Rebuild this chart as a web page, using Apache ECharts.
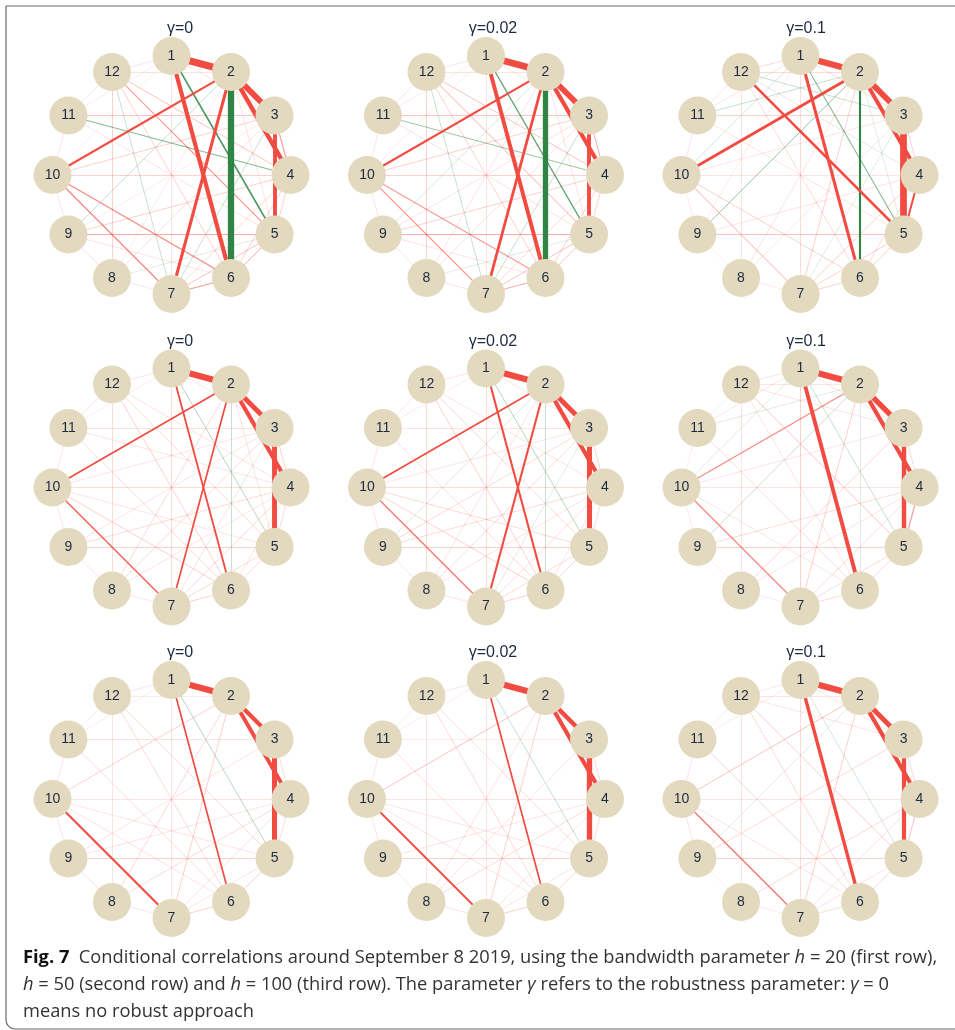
<!DOCTYPE html>
<html>
<head>
<meta charset="utf-8">
<script src="https://cdn.jsdelivr.net/npm/echarts@6/dist/echarts.min.js"></script>
<style>
  html, body { margin: 0; padding: 0; background: #fff; }
  #chart { width: 955px; height: 1030px; }
</style>
</head>
<body>
<div id="chart"></div>
<script>
// Twelve series on a ring, numbered clockwise from the top
const nodeNames = ['1', '2', '3', '4', '5', '6', '7', '8', '9', '10', '11', '12'];
const gammaLabels = ['γ=0', 'γ=0.02', 'γ=0.1'];
const bandwidths = [20, 50, 100];

// Conditional correlations as [node, node, value]; positive = red, negative = green
const corr_h20_g0 = [
  [1,2,0.50],[2,3,0.42],[2,4,0.32],[3,5,0.28],[1,6,0.30],[2,6,-0.45],[2,7,0.22],[2,10,0.15],
  [1,5,-0.11],[4,11,-0.08],[3,7,-0.05],[2,9,-0.05],[7,12,-0.05],[5,8,-0.03],
  [6,10,0.09],[7,10,0.09],[5,12,0.08],[4,12,0.06],[6,12,0.05],[3,11,0.06],[4,10,0.05],[3,10,0.05],
  [5,9,0.07],[4,9,0.05],[8,12,0.05],[1,7,0.03],[6,7,0.08],[5,7,0.06],[4,7,0.04],[5,6,0.07],[4,6,0.05],
  [3,4,0.08],[4,5,0.05],[1,12,0.03],[1,11,0.02],[11,12,0.03],[10,11,0.03],[9,10,0.03],[8,9,0.03],[7,8,0.03],
  [2,12,0.03],[5,11,0.03],[3,9,0.02],[2,8,0.02],[1,10,0.02],[3,8,0.03],[6,9,0.03],[1,3,0.03],[2,5,0.03]
];
const corr_h20_g002 = [
  [1,2,0.48],[2,3,0.40],[2,4,0.30],[3,5,0.28],[1,6,0.28],[2,6,-0.38],[2,7,0.20],[2,10,0.15],
  [1,5,-0.10],[4,11,-0.07],[3,7,-0.05],[2,9,-0.04],[7,12,-0.05],[5,8,-0.03],
  [6,10,0.08],[7,10,0.08],[5,12,0.07],[4,12,0.06],[6,12,0.05],[3,11,0.06],[4,10,0.05],[3,10,0.05],
  [5,9,0.07],[4,9,0.05],[8,12,0.05],[1,7,0.03],[6,7,0.07],[5,7,0.06],[4,7,0.04],[5,6,0.06],[4,6,0.05],
  [3,4,0.07],[4,5,0.05],[1,12,0.03],[1,11,0.02],[11,12,0.03],[10,11,0.03],[9,10,0.03],[8,9,0.03],[7,8,0.03],
  [2,12,0.03],[5,11,0.03],[3,9,0.03],[2,8,0.03],[1,10,0.02],[3,8,0.03],[6,9,0.03],[1,3,0.03],[2,5,0.03]
];
const corr_h20_g01 = [
  [1,2,0.45],[2,3,0.42],[2,4,0.28],[3,5,0.48],[4,5,0.14],[1,6,0.22],[2,6,-0.15],[5,12,0.18],[2,10,0.20],
  [1,5,-0.08],[2,9,-0.07],[3,12,-0.05],[2,11,-0.05],[1,10,-0.04],[2,5,-0.03],[3,7,-0.03],[4,12,-0.03],
  [5,9,0.06],[3,11,0.05],[7,10,0.07],[6,10,0.05],[1,7,0.04],[2,7,0.05],[4,7,0.05],[5,7,0.05],[5,6,0.05],[6,7,0.05],
  [6,12,0.04],[2,8,0.03],[4,9,0.03],[4,10,0.03],[8,12,0.03],[1,12,0.04],[1,11,0.03],[11,12,0.03],[10,11,0.03],
  [9,10,0.02],[8,9,0.02],[7,8,0.02],[2,12,0.04],[1,3,0.04],[4,6,0.04],[3,10,0.03],[3,8,0.03],[1,9,0.02],[5,11,0.03],[3,4,0.05]
];
const corr_h50_g0 = [
  [1,2,0.45],[2,3,0.35],[2,4,0.30],[3,5,0.35],[1,6,0.13],[2,7,0.12],[2,10,0.12],[7,10,0.11],
  [1,5,-0.06],[2,6,-0.05],[3,7,-0.03],
  [6,12,0.05],[5,12,0.04],[6,11,0.04],[5,9,0.05],[4,10,0.04],[6,10,0.05],[5,10,0.03],[4,9,0.04],[3,8,0.04],[4,8,0.03],
  [6,7,0.05],[5,7,0.04],[4,7,0.04],[5,6,0.04],[4,6,0.03],[8,12,0.04],[1,7,0.04],[4,12,0.03],[3,11,0.03],[4,11,0.03],
  [1,12,0.03],[1,11,0.02],[11,12,0.03],[10,11,0.03],[9,10,0.03],[8,9,0.03],[7,8,0.03],[2,8,0.04],[3,9,0.03],
  [3,10,0.03],[1,3,0.03],[2,5,0.03],[3,4,0.05],[4,5,0.04]
];
const corr_h50_g002 = [
  [1,2,0.45],[2,3,0.35],[2,4,0.30],[3,5,0.36],[1,6,0.15],[2,7,0.15],[2,10,0.12],[7,10,0.10],
  [1,5,-0.06],[2,6,-0.05],[3,7,-0.03],[2,9,-0.03],
  [6,12,0.05],[5,12,0.04],[6,11,0.04],[5,9,0.05],[4,10,0.04],[6,10,0.05],[5,10,0.04],[4,9,0.04],[3,8,0.04],[4,8,0.03],
  [6,7,0.05],[5,7,0.04],[4,7,0.04],[5,6,0.04],[4,6,0.03],[8,12,0.04],[1,7,0.04],[4,12,0.03],[3,11,0.03],[3,9,0.04],
  [1,12,0.03],[1,11,0.02],[11,12,0.03],[10,11,0.03],[9,10,0.03],[8,9,0.03],[7,8,0.03],[2,8,0.03],[3,10,0.03],
  [1,3,0.03],[3,4,0.05],[4,5,0.04]
];
const corr_h50_g01 = [
  [1,2,0.45],[2,3,0.38],[2,4,0.30],[3,5,0.32],[4,5,0.08],[1,6,0.28],[2,10,0.09],[7,10,0.09],
  [1,5,-0.05],[2,9,-0.05],[1,10,-0.03],[2,11,-0.03],[2,6,-0.03],
  [5,12,0.06],[3,12,0.03],[2,7,0.05],[1,7,0.05],[6,11,0.04],[5,9,0.05],[4,10,0.03],[3,8,0.04],[4,8,0.03],[4,9,0.04],
  [4,7,0.04],[5,7,0.04],[5,6,0.04],[6,7,0.04],[6,12,0.03],[8,12,0.03],[1,12,0.03],[1,11,0.03],[11,12,0.02],
  [10,11,0.02],[9,10,0.02],[8,9,0.02],[7,8,0.02],[2,12,0.03],[1,3,0.03],[6,10,0.03],[3,10,0.03],[3,4,0.04]
];
const corr_h100_g0 = [
  [1,2,0.45],[2,3,0.30],[2,4,0.28],[3,5,0.36],[1,6,0.12],[7,10,0.15],[1,5,-0.06],
  [2,10,0.05],[2,7,0.05],[2,8,0.04],[5,9,0.05],[5,12,0.04],[6,12,0.04],[6,11,0.04],[5,10,0.03],[4,10,0.03],
  [4,9,0.03],[4,8,0.04],[3,9,0.03],[6,7,0.05],[5,6,0.05],[5,7,0.03],[4,7,0.03],[8,12,0.03],[1,7,0.03],
  [1,12,0.03],[1,11,0.02],[11,12,0.02],[10,11,0.03],[9,10,0.03],[8,9,0.03],[7,8,0.03],[3,4,0.04],[4,5,0.04],
  [6,10,0.03],[3,11,0.03],[2,12,0.02]
];
const corr_h100_g002 = [
  [1,2,0.45],[2,3,0.32],[2,4,0.30],[3,5,0.38],[1,6,0.12],[7,10,0.13],[1,5,-0.05],
  [2,10,0.06],[2,7,0.05],[6,12,0.04],[5,12,0.04],[6,11,0.04],[5,9,0.05],[4,8,0.04],[4,10,0.03],[3,8,0.03],
  [2,8,0.03],[4,9,0.03],[6,7,0.05],[5,6,0.04],[5,7,0.03],[4,7,0.03],[8,12,0.03],[1,7,0.03],[1,12,0.03],
  [1,11,0.02],[11,12,0.02],[10,11,0.03],[9,10,0.03],[8,9,0.03],[7,8,0.03],[3,4,0.04],[4,5,0.04],[6,10,0.03],
  [3,11,0.02],[5,10,0.03]
];
const corr_h100_g01 = [
  [1,2,0.45],[2,3,0.35],[2,4,0.30],[3,5,0.30],[4,5,0.06],[1,6,0.24],[7,10,0.10],[1,5,-0.04],
  [2,10,0.06],[2,7,0.05],[1,7,0.04],[5,12,0.05],[6,12,0.04],[6,11,0.04],[5,9,0.05],[4,8,0.04],[3,9,0.04],
  [2,9,-0.03],[4,10,0.03],[3,12,0.03],[6,7,0.04],[5,6,0.04],[5,7,0.03],[4,7,0.03],[8,12,0.03],[1,12,0.03],
  [1,11,0.02],[11,12,0.02],[10,11,0.03],[9,10,0.03],[8,9,0.02],[7,8,0.02],[3,4,0.04],[6,10,0.03],[2,12,0.03],[1,3,0.03]
];

// Panels in reading order: rows = bandwidth h, columns = robustness γ
const panelEdges = [
  corr_h20_g0, corr_h20_g002, corr_h20_g01,
  corr_h50_g0, corr_h50_g002, corr_h50_g01,
  corr_h100_g0, corr_h100_g002, corr_h100_g01
];

// Layout of the 3 x 3 grid
const colX = [171.5, 486, 800.5];
const rowY = [175, 487.5, 799];
const titleX = [180, 493, 806];
const RING_RADIUS = 119;

const POS_COLOR = '#F24C42';
const NEG_COLOR = '#2E8545';
const NODE_COLOR = '#E3D9BF';
const INK = '#1E2A40';
const SANS = 'Liberation Sans, Arial, sans-serif';
const CAPTION_FONT = 'Open Sans, Noto Sans, sans-serif';
const CAPTION_SIZE = 18.3;

// Edge width and saturation grow with the size of the correlation
function edgeStyle(v) {
  const a = Math.abs(v);
  return {
    color: v > 0 ? POS_COLOR : NEG_COLOR,
    width: Math.max(0.8, a * 14),
    opacity: a >= 0.12 ? 1 : 0.06 + 0.9 * Math.pow(a / 0.12, 1.4),
    curveness: 0
  };
}

const polar = [], angleAxis = [], radiusAxis = [], series = [], graphic = [];

panelEdges.forEach((edges, i) => {
  const r = Math.floor(i / 3), c = i % 3;
  polar.push({ center: [colX[c], rowY[r]], radius: RING_RADIUS });
  angleAxis.push({
    polarIndex: i, type: 'value', min: 0, max: nodeNames.length,
    startAngle: 90, clockwise: true, show: false
  });
  radiusAxis.push({ polarIndex: i, type: 'value', min: 0, max: 1, show: false });

  const links = edges
    .slice()
    .sort((a, b) => Math.abs(a[2]) - Math.abs(b[2]))
    .map(([s, t, v]) => ({
      source: nodeNames[s - 1], target: nodeNames[t - 1], value: v, lineStyle: edgeStyle(v)
    }));

  series.push({
    type: 'graph',
    name: 'h=' + bandwidths[r] + ', ' + gammaLabels[c],
    coordinateSystem: 'polar',
    polarIndex: i,
    layout: 'none',
    silent: true,
    animation: false,
    symbol: 'circle',
    symbolSize: 38,
    edgeSymbol: ['none', 'none'],
    itemStyle: { color: NODE_COLOR },
    label: { show: true, position: 'inside', color: INK, fontSize: 14, fontFamily: SANS },
    lineStyle: { curveness: 0 },
    emphasis: { disabled: true },
    data: nodeNames.map((n, k) => ({ name: n, value: [1, k] })),
    links
  });

  graphic.push({
    type: 'text', x: titleX[c], y: rowY[r] - 146,
    style: {
      text: gammaLabels[c], fill: INK, fontSize: 16, fontFamily: SANS,
      align: 'center', verticalAlign: 'middle'
    }
  });
});

// Figure frame: top and left rules with a rounded lower-left corner
graphic.push({
  type: 'rect',
  shape: { x: 6, y: 6, width: 970, height: 1023, r: [0, 0, 0, 9] },
  style: { fill: 'none', stroke: '#6b6b6b', lineWidth: 1.2 },
  z: -1
});

// Caption
const captionLines = [
  '{b|Fig. 7}  Conditional correlations around September 8 2019, using the bandwidth parameter {i|h} = 20 (first row),',
  '{i|h} = 50 (second row) and {i|h} = 100 (third row). The parameter {i|γ} refers to the robustness parameter: {i|γ} = 0',
  'means no robust approach'
];
const captionY = [958, 985, 1012];
captionLines.forEach((line, k) => {
  graphic.push({
    type: 'text', x: 23, y: captionY[k],
    style: {
      text: line, fill: '#333', fontSize: CAPTION_SIZE, fontFamily: CAPTION_FONT,
      align: 'left', verticalAlign: 'middle',
      rich: {
        b: { fontWeight: 'bold', fill: '#111', fontSize: CAPTION_SIZE, fontFamily: CAPTION_FONT },
        i: { fontStyle: 'italic', fill: '#333', fontSize: CAPTION_SIZE, fontFamily: CAPTION_FONT }
      }
    }
  });
});

const chart = echarts.init(document.getElementById('chart'), null, { renderer: 'canvas' });
chart.setOption({
  backgroundColor: '#fff',
  animation: false,
  polar, angleAxis, radiusAxis, series, graphic
});
</script>
</body>
</html>
